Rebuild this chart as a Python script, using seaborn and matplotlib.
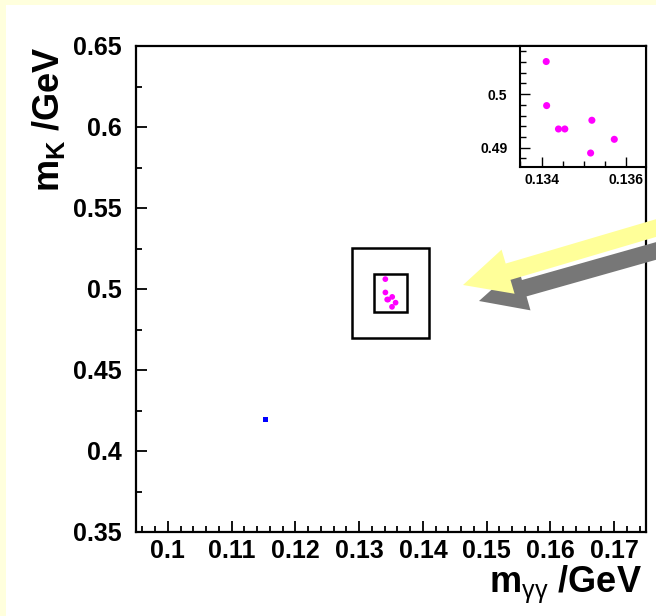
import matplotlib
matplotlib.use("Agg")
import matplotlib.pyplot as plt
import seaborn as sns
import pandas as pd
from matplotlib.patches import Rectangle, FancyArrow
from matplotlib.ticker import MultipleLocator, FuncFormatter

# candidate events (m_gamma_gamma, m_K) in GeV
m_gg = [0.13411, 0.13412, 0.13440, 0.13455, 0.13519, 0.13572, 0.13516]
m_k = [0.5061, 0.49787, 0.4935, 0.4935, 0.49513, 0.49157, 0.48901]

# single background-like event
bg_m_gg = [0.1153]
bg_m_k = [0.4196]

# zoom boxes drawn on the main plot: (x0, x1, y0, y1)
outer_box = [0.1289, 0.1410, 0.4697, 0.5253]
inner_box = [0.1324, 0.1375, 0.4860, 0.5091]

main_xlim = (0.095, 0.175)
main_ylim = (0.35, 0.65)
inset_xlim = (0.13349, 0.13647)
inset_ylim = (0.4864, 0.509)

sig = pd.DataFrame({"m_gg": m_gg, "m_k": m_k})
bg = pd.DataFrame({"m_gg": bg_m_gg, "m_k": bg_m_k})

sns.set_style("ticks")
plt.rcParams['font.family'] = ['Liberation Sans', 'DejaVu Sans']
plt.rcParams['mathtext.fontset'] = 'custom'
plt.rcParams['mathtext.rm'] = 'Liberation Sans'
plt.rcParams['mathtext.bf'] = 'Liberation Sans:bold'
plt.rcParams['mathtext.it'] = 'Liberation Sans:italic'
plt.rcParams['text.color'] = 'black'
plt.rcParams['axes.labelcolor'] = 'black'

W, H = 656, 616
fig = plt.figure(figsize=(W / 100, H / 100), dpi=100)
fig.patch.set_facecolor('#FFFFDD')
fig.add_artist(Rectangle((6 / W, 0), 1 - 6 / W, 1 - 5 / H, transform=fig.transFigure,
                         facecolor='white', edgecolor='none', zorder=-5))

fmt = FuncFormatter(lambda v, p: '%g' % round(v, 4))

# main plot
ax = fig.add_axes([136 / W, 84 / H, 510 / W, 486 / H])
ax.set_facecolor('white')
sns.scatterplot(data=sig, x='m_gg', y='m_k', ax=ax, color='#FF00FF', s=17,
                edgecolor='none', zorder=3)
sns.scatterplot(data=bg, x='m_gg', y='m_k', ax=ax, color='#0000FF', s=14,
                marker='s', edgecolor='none', zorder=3)
for b in (outer_box, inner_box):
    ax.add_patch(Rectangle((b[0], b[2]), b[1] - b[0], b[3] - b[2], fill=False,
                           edgecolor='black', linewidth=1.8, zorder=2))
ax.set_xlim(main_xlim)
ax.set_ylim(main_ylim)
ax.xaxis.set_major_locator(MultipleLocator(0.01))
ax.xaxis.set_minor_locator(MultipleLocator(0.002))
ax.yaxis.set_major_locator(MultipleLocator(0.05))
ax.yaxis.set_minor_locator(MultipleLocator(0.025))
ax.xaxis.set_major_formatter(fmt)
ax.yaxis.set_major_formatter(fmt)
ax.tick_params(which='both', direction='in', width=1.3, colors='black')
ax.tick_params(which='major', length=8)
ax.tick_params(which='minor', length=4)
ax.tick_params(axis='x', labelsize=18, pad=5)
ax.tick_params(axis='y', labelsize=18, pad=10)
for lab in ax.get_xticklabels() + ax.get_yticklabels():
    lab.set_fontweight('bold')
for s in ax.spines.values():
    s.set_linewidth(1.6)
    s.set_color('black')

ax.set_xlabel(r'$\mathbf{m}_{\mathrm{\gamma\gamma}}$ /GeV', fontsize=26, fontweight='bold', loc='right')
ax.xaxis.set_label_coords(0.992, -0.064)
ax.set_ylabel(r'$\mathbf{m}_{\mathbf{K}}$ /GeV', fontsize=26, fontweight='bold', loc='top')
ax.yaxis.set_label_coords(-0.135, 1.0)

# inset zoom
axin = fig.add_axes([520 / W, 449 / H, 126 / W, 121 / H])
axin.set_facecolor('white')
sns.scatterplot(data=sig, x='m_gg', y='m_k', ax=axin, color='#FF00FF', s=26,
                edgecolor='none')
axin.set_xlim(inset_xlim)
axin.set_ylim(inset_ylim)
axin.xaxis.set_major_locator(MultipleLocator(0.002))
axin.xaxis.set_minor_locator(MultipleLocator(0.0005))
axin.yaxis.set_major_locator(MultipleLocator(0.01))
axin.yaxis.set_minor_locator(MultipleLocator(0.002))
axin.xaxis.set_major_formatter(fmt)
axin.yaxis.set_major_formatter(fmt)
axin.tick_params(which='both', direction='in', width=1.0, colors='black', labelsize=10)
axin.tick_params(which='major', length=7)
axin.tick_params(which='minor', length=4)
axin.tick_params(axis='y', pad=9)
axin.tick_params(axis='x', pad=4)
for lab in axin.get_xticklabels() + axin.get_yticklabels():
    lab.set_fontweight('bold')
axin.set_xlabel('')
axin.set_ylabel('')
for s in axin.spines.values():
    s.set_linewidth(1.5)
    s.set_color('black')

# pointer arrows (pixel coords from top-left, converted to inches)
def px(x, y):
    return x / 100, (H - y) / 100

for tail, tip, col in [((739, 227.5), (479, 301), '#777777'),
                       ((722, 208.6), (463, 285), '#FFFF99')]:
    x0, y0 = px(*tail)
    x1, y1 = px(*tip)
    fig.add_artist(FancyArrow(x0, y0, x1 - x0, y1 - y0, width=0.17, head_width=0.46,
                              head_length=0.47, length_includes_head=True,
                              transform=fig.dpi_scale_trans, facecolor=col,
                              edgecolor='none', zorder=5))

fig.savefig('out.png', dpi=100)
